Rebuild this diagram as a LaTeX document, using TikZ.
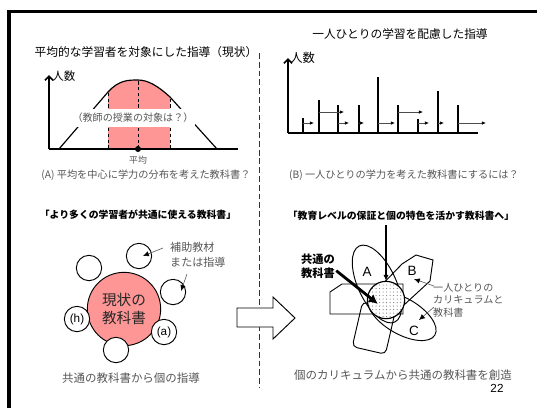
\documentclass[tikz,border=0pt]{standalone}
\usepackage{fontspec}
\newfontfamily\jp{Noto Sans CJK JP}
\newfontfamily\jpheavy{Noto Sans CJK JP Black}
\newfontfamily\lat{Liberation Sans}
\usetikzlibrary{arrows.meta, positioning, patterns}
\definecolor{softpink}{RGB}{255,150,150}
\definecolor{inkgray}{RGB}{85,85,85}

\begin{document}
\begin{tikzpicture}[x=0.03cm,y=-0.03cm,
    title/.style={font=\jp\fontsize{10}{12}\selectfont},
    heading/.style={font=\jpheavy\fontsize{8.4}{10}\selectfont},
    caption/.style={font=\jp\fontsize{8.7}{10}\selectfont,text=inkgray},
    bigcaption/.style={font=\jp\fontsize{9.8}{12}\selectfont,text=inkgray},
    note/.style={font=\jp\fontsize{9.4}{12.5}\selectfont,text=inkgray,align=left,inner sep=0pt},
    smallnote/.style={font=\jp\fontsize{8.6}{10.6}\selectfont,text=inkgray,align=left,inner sep=0pt},
    axis/.style={line width=1.5pt,-{Straight Barb[length=3.5pt,width=7pt]}},
    bar/.style={line width=1pt},
    move/.style={line width=0.6pt,draw=black!70,-{Latex[length=3.5pt,width=3pt,color=black]}},
    pointer/.style={line width=0.5pt,draw=inkgray,-{Latex[length=5pt,width=4.5pt,color=black]}},
    subcirc/.style={circle,draw,fill=white,line width=0.8pt,minimum size=0.76cm,inner sep=0pt,font=\lat\fontsize{10}{12}\selectfont},
    letter/.style={font=\lat\fontsize{11.5}{13}\selectfont,inner sep=0pt}]

\useasboundingbox (0,0) rectangle (537,408);

% frame and divider
\draw[line width=2.6pt,line join=miter] (537,11.5) -- (9,11.5) -- (9,408);
\draw[line width=0.8pt,draw=black!80,dash pattern=on 5pt off 2.5pt] (259,53) -- (259,388);

% (A) average learner
\node[title] (titleL) at (146,52) {平均的な学習者を対象にした指導（現状）};
\fill[softpink] (108,149) -- (108,92) .. controls (119,80) and (128,80) .. (138,80)
    .. controls (148,80) and (158,86) .. (170,97) -- (170,149) -- cycle;
\draw[densely dashed,line width=0.7pt] (108,149) -- (108,92) (138,149) -- (138,80) (170,149) -- (170,97);
\draw[line width=1pt] (59,149) -- (108,92) .. controls (119,80) and (128,80) .. (138,80)
    .. controls (148,80) and (158,86) .. (170,97) -- (217,149);
\draw[axis] (49,149) -- (49,75);
\draw[line width=1.2pt] (49,149) -- (238,149);
\node[anchor=west,inner sep=1pt,font=\jp\fontsize{9.8}{12}\selectfont] (countL) at (51,76) {人数};
\node[fill=white,inner xsep=1pt,minimum height=0.5cm,font=\jp\fontsize{8.6}{10}\selectfont,text=inkgray] (target) at (133,118) {（教師の授業の対象は？）};
\node[circle,fill,inner sep=0pt,minimum size=0.18cm] (mean) at (138,149) {};
\node[below=0pt of mean,font=\jp\fontsize{7.6}{9}\selectfont,text=inkgray] (meanlbl) {平均};
\node[caption] (capA) at (146,175) {(A)\ 平均を中心に学力の分布を考えた教科書？};

% (B) each learner
\node[title] (titleR) at (400,34) {一人ひとりの学習を配慮した指導};
\draw[axis] (288,133) -- (288,58);
\draw[line width=1.2pt] (288,133) -- (478,133);
\node[anchor=west,inner sep=1pt,font=\jp\fontsize{10.5}{12}\selectfont] (countR) at (289,58) {人数};
\draw[bar] (303,133) -- (303,118) (319,133) -- (319,100) (338,133) -- (338,105)
    (359,133) -- (359,105) (378,133) -- (378,77) (398,133) -- (398,105)
    (418,133) -- (418,119) (438,133) -- (438,91) (458,133) -- (458,105);
\draw[move] (303,123) -- (314,123);
\draw[move] (319,112) -- (344,112);
\draw[move] (338,123) -- (349,123);
\draw[move] (359,123) -- (364,123);
\draw[move] (378,123) -- (395,123);
\draw[move] (398,112) -- (423,112);
\draw[move] (418,123) -- (429,123);
\draw[move] (438,123) -- (444,123);
\draw[move] (458,123) -- (486,123);
\node[caption] (capB) at (404,175) {(B)\ 一人ひとりの学力を考えた教科書にするには？};

% current textbook
\node[heading] (headL) at (138,215) {「より多くの学習者が共通に使える教科書」};
\node[circle,draw,fill=softpink,line width=0.8pt,minimum size=2.2cm,align=center,
      font=\jp\fontsize{12.5}{16}\selectfont,text=black!85] (current) at (124,309) {現状の\\教科書};
\node[subcirc] (sub1) at (89,268) {};
\node[subcirc] (sub2) at (139,256) {};
\node[subcirc] (sub3) at (173,292) {};
\node[subcirc] (suba) at (164,332) {(a)};
\node[subcirc] (sub5) at (116,350) {};
\node[subcirc] (subh) at (77,319) {(h)};
\node[note,anchor=west] (aux) at (170,255) {補助教材\\または指導};
\coordinate (aux1) at (163,248);
\coordinate (aux2) at (187,274);
\draw[pointer] (aux1) -- (143,256);
\draw[pointer] (aux2) -- (181,291);
\node[bigcaption] (capL) at (131,378) {共通の教科書から個の指導};

% transition arrow
\draw[fill=white,line width=0.8pt] (237,308) -- (273,308) -- (273,297) -- (295,318)
    -- (273,339) -- (273,327) -- (237,327) -- cycle;

% individual curricula
\node[heading] (headR) at (401,216) {「教育レベルの保証と個の特色を活かす教科書へ」};
\draw[line width=0.8pt] (330,292) -- (342,284) -- (403,284) -- (403,314) -- (330,314) -- cycle;
\draw[line width=0.8pt] (402,264) -- (416,255) -- (433,260) -- (430,281) -- (392,316) -- (375,292) -- cycle;
\draw[line width=0.8pt,rotate around={-65:(377,284)}] (377,284) ellipse [x radius=42, y radius=19];
\draw[line width=0.8pt,rotate around={-30:(402,316)}] (402,316) ellipse [x radius=38, y radius=18];
\draw[line width=0.8pt,rounded corners=4pt,rotate around={-13:(374,328)}] (357,305) rectangle (391,351);
\node[circle,draw,line width=1pt,minimum size=1.12cm,preaction={fill=white},
      pattern=dots,pattern color=black!55] (common) at (386,300) {};
\node[letter] (la) at (367,272) {A};
\node[letter] (lb) at (412,271) {B};
\node[letter] (lc) at (414,331) {C};
\draw[line width=1pt,-{Latex[length=5pt,width=4.5pt]}] (headR.south -| common.north) -- (common.north);
\node[font=\jpheavy\fontsize{9.6}{12}\selectfont,align=center,inner sep=1pt] (commlab) at (318,266) {共通の\\教科書};
\coordinate (core) at (378,304);
\draw[line width=2.4pt,-{Latex[length=8pt,width=8pt]}] ([yshift=-4pt]commlab.east) -- (core);
\node[smallnote,anchor=west] (indiv) at (433,300) {一人ひとりの\\カリキュラムと\\教科書};
\coordinate (ind1) at (434,286);
\coordinate (ind2) at (434,307);
\draw[pointer] (ind1) -- (414,279);
\draw[pointer] (ind2) -- (419,320);
\node[bigcaption] (capR) at (403,375) {個のカリキュラムから共通の教科書を創造};
\node[font=\lat\fontsize{10}{12}\selectfont,inner sep=0pt] (page) at (497,388) {22};
\end{tikzpicture}
\end{document}
